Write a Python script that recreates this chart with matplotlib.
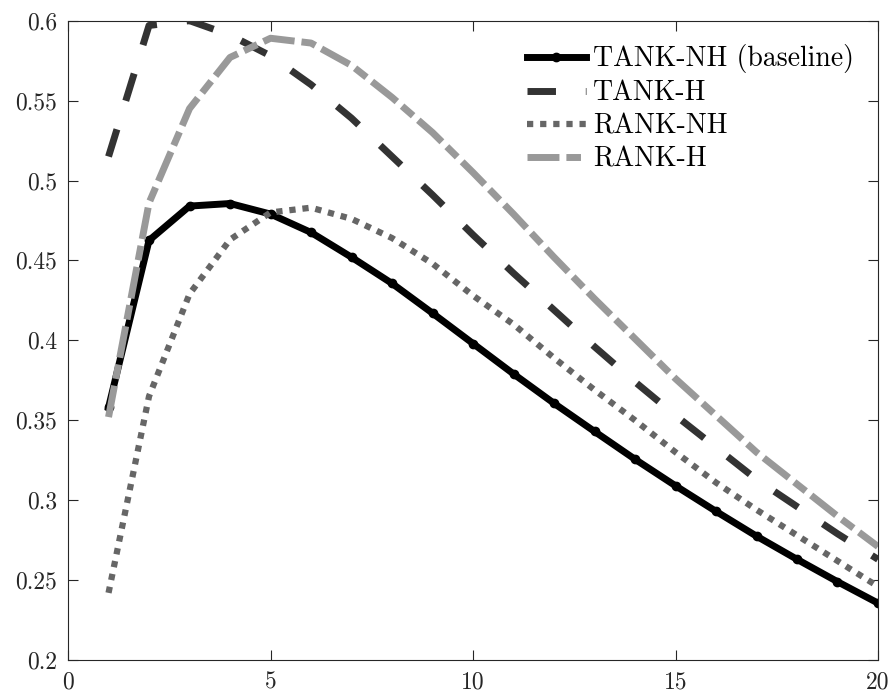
import numpy as np
import matplotlib
matplotlib.use("Agg")
import matplotlib.pyplot as plt

plt.rcParams['font.family'] = 'serif'
plt.rcParams['font.serif'] = ['cmr10']
plt.rcParams['mathtext.fontset'] = 'cm'
plt.rcParams['axes.formatter.use_mathtext'] = True

# horizon (quarters)
periods = np.arange(1, 21)

tank_nh = [0.358, 0.4625, 0.484, 0.4856, 0.479, 0.4675, 0.452, 0.4356, 0.417, 0.398,
           0.379, 0.3606, 0.343, 0.3256, 0.309, 0.293, 0.2775, 0.263, 0.249, 0.2356]
tank_h = [0.515, 0.597, 0.600, 0.591, 0.578, 0.560, 0.539, 0.515, 0.491, 0.466,
          0.442, 0.419, 0.396, 0.374, 0.353, 0.333, 0.313, 0.296, 0.279, 0.263]
rank_nh = [0.242, 0.365, 0.429, 0.463, 0.480, 0.483, 0.476, 0.464, 0.448, 0.428,
           0.410, 0.389, 0.369, 0.350, 0.330, 0.311, 0.294, 0.278, 0.262, 0.246]
rank_h = [0.352, 0.486, 0.545, 0.577, 0.589, 0.586, 0.572, 0.552, 0.530, 0.505,
          0.479, 0.452, 0.426, 0.401, 0.376, 0.353, 0.330, 0.310, 0.290, 0.271]

labels = ['TANK-NH (baseline)', 'TANK-H', 'RANK-NH', 'RANK-H']

x_ticks = [0, 5, 10, 15, 20]
y_ticks = [0.2, 0.25, 0.3, 0.35, 0.4, 0.45, 0.5, 0.55, 0.6]
y_ticklabels = ['0.2', '0.25', '0.3', '0.35', '0.4', '0.45', '0.5', '0.55', '0.6']

fig = plt.figure(figsize=(8.94, 6.96), dpi=100)
ax = fig.add_axes([0.0761, 0.0517, 0.906, 0.9186])

ax.plot(periods, tank_nh, color='black', lw=5, marker='o', markersize=6,
        label=labels[0], zorder=2)
ax.plot(periods, tank_h, color='#333333', lw=5, dashes=(4.1, 4.3),
        dash_capstyle='butt', label=labels[1], zorder=3)
ax.plot(periods, rank_nh, color='#666666', lw=4.5, dashes=(1, 1.1),
        dash_capstyle='butt', label=labels[2], zorder=3)
ax.plot(periods, rank_h, color='#999999', lw=5, dashes=(4.6, 1, 2.1, 1),
        dash_capstyle='butt', label=labels[3], zorder=3)

ax.set_xlim(0, 20)
ax.set_ylim(0.2, 0.6)
ax.set_xticks(x_ticks)
ax.set_xticklabels([str(t) for t in x_ticks])
ax.set_yticks(y_ticks)
ax.set_yticklabels(y_ticklabels)

ax.tick_params(direction='in', length=7, width=0.8, top=True, right=True,
               labelsize=17, colors='#262626', pad=8)
for s in ax.spines.values():
    s.set_color('#262626')
    s.set_linewidth(0.8)

leg = ax.legend(loc='upper right', frameon=False, fontsize=20,
                handlelength=2.1, handletextpad=0.28, labelspacing=0.24,
                borderaxespad=0.45)

fig.savefig('out.png', dpi=100)
